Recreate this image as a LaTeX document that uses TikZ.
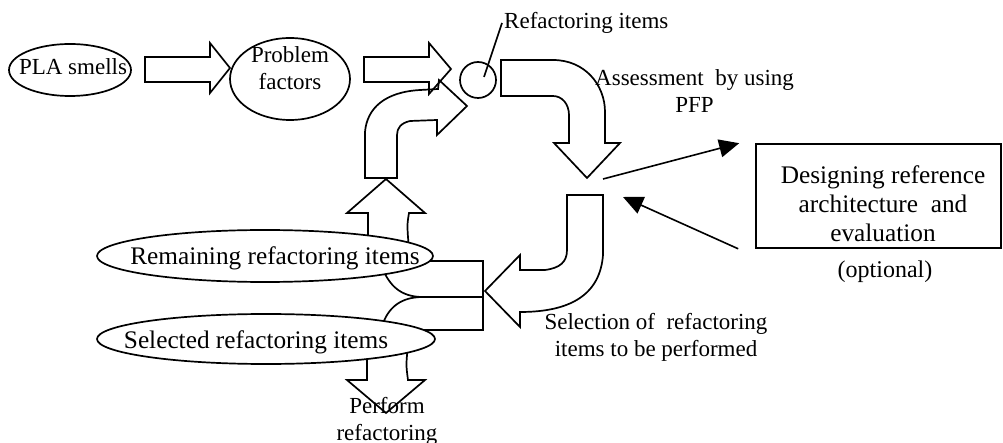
\documentclass[tikz,border=0pt]{standalone}
\usepackage{fontspec}
\setmainfont{Liberation Serif}
\usetikzlibrary{shapes.geometric,arrows.meta}
\begin{document}
\begin{tikzpicture}[x=1pt,y=-1pt,
  blockarrow/.style={draw=black, line width=1.7pt, line join=miter},
  bubble/.style={ellipse, draw=black, line width=1.7pt, fill=white, inner sep=0pt},
  lbl/.style={inner sep=0pt, font=\fontsize{23}{27}\selectfont, align=center},
  biglbl/.style={lbl, font=\fontsize{25.3}{29}\selectfont},
  thinarrow/.style={draw=black, line width=1.6pt, -{Triangle[length=20pt,width=18pt]}}
]
\useasboundingbox (0,0) rectangle (1003,443);

% straight block arrows along the top row
\draw[blockarrow] (145,57) -- (210,57) -- (210,43) -- (230,68) -- (210,93) -- (210,82) -- (145,82) -- cycle;
\draw[blockarrow] (364,57) -- (429,57) -- (429,43) -- (451,69) -- (429,94) -- (429,82) -- (364,82) -- cycle;

% bent arrow: from the refactoring items down to the assessment
\draw[blockarrow] (501,60) -- (553,60) .. controls (585,60) and (605,85) .. (605,112)
  -- (605,143) -- (620,143) -- (587,178) -- (554,143) -- (569,143) -- (569,115)
  .. controls (569,104) and (562,96) .. (553,96) -- (501,96) -- cycle;

% bent arrow: loop back up into the refactoring items
\draw[blockarrow] (365,178) -- (365,132) .. controls (367,108) and (385,92) .. (420,90) -- (438,89)
  -- (439,80) -- (467,106) -- (437,135) -- (437,120) -- (410,121)
  .. controls (401,123) and (397,128) .. (397,135) -- (397,178) -- cycle;

% arrow rising from the remaining items
\draw[blockarrow] (368,250) -- (368,213) -- (347,213) -- (386,179) -- (425,213) -- (409,213)
  .. controls (407,225) .. (409,250);

% arrow going down from the selected items
\draw[blockarrow] (367,345) -- (367,380) -- (347,380) -- (386,413) -- (425,380) -- (408,380)
  .. controls (406,365) .. (408,345);

% bent arrow: from the assessment round to the selection
\draw[blockarrow] (567,195) -- (603,195) -- (603,255) .. controls (600,295) and (570,312) .. (520,312)
  -- (520,327) -- (485,291) -- (520,255) -- (520,270) -- (545,270)
  .. controls (560,268) and (567,262) .. (567,250) -- cycle;

% forked tail splitting into the two kinds of items
\draw[blockarrow] (420,261) -- (483,261) -- (483,330) -- (420,330);
\draw[blockarrow] (483,297) -- (423,297) .. controls (400,297) and (390,285) .. (383,270);
\draw[blockarrow] (423,297) .. controls (400,297) and (388,308) .. (382,326);

% item collections
\node[bubble, minimum width=122pt, minimum height=52pt] (pla) at (70,70) {};
\node[bubble, minimum width=120pt, minimum height=82pt] (prob) at (290,79) {};
\node[bubble, minimum width=336pt, minimum height=52pt] (remain) at (265,256) {};
\node[bubble, minimum width=338pt, minimum height=50pt] (select) at (266,339) {};
\node[circle, draw=black, line width=1.7pt, minimum size=36pt, inner sep=0pt] (items) at (478,80) {};

% optional design step
\node[draw=black, line width=1.6pt, minimum width=245pt, minimum height=104pt, inner sep=0pt] (design) at (878.5,196) {};

% labels
\node[lbl, anchor=base] (plat) at (73,75) {PLA smells};
\node[lbl, anchor=north] (probt) at (290,46) {Problem\\factors};
\node[lbl, anchor=base west] (itemst) at (504,29) {Refactoring items};
\node[lbl, anchor=north west] (assess) at (595,69) {Assessment \ by using\\PFP};
\node[biglbl, anchor=north] (designt) at (883,165) {Designing reference\\architecture \ and\\evaluation};
\node[lbl, font=\fontsize{24}{28}\selectfont, anchor=base] (opt) at (885,278) {(optional)};
\node[lbl, anchor=north] (selt) at (656,313) {Selection of \ refactoring\\items to be performed};
\node[biglbl, anchor=base] (remt) at (275,265) {Remaining refactoring items};
\node[biglbl, anchor=base] (selit) at (256,348) {Selected refactoring items};
\node[lbl, anchor=north] (perft) at (387,397) {Perform\\refactoring};

% leader to the circle and the two thin arrows to and from the design box
\coordinate (lead) at (484,77);
\draw[line width=1.6pt] (itemst.base west) ++(-2,-6) -- (lead);
\coordinate (outfrom) at (603,179);
\coordinate (intip) at (623,197);
\draw[thinarrow] (outfrom) -- ([xshift=-16pt]design.north west);
\draw[thinarrow] ([xshift=-17pt]design.south west) -- (intip);
\end{tikzpicture}
\end{document}
